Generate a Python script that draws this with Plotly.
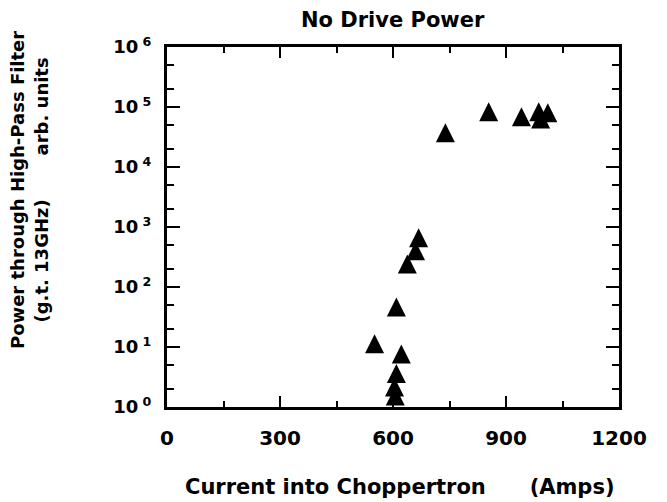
import plotly.graph_objects as go

# Data
current_amps = [551, 609, 622, 609, 604, 606, 638, 660, 668, 739, 854, 941, 987, 992, 1011]
power_arb = [10, 41, 6.8, 3.2, 1.9, 1.35, 215, 355, 585, 33000, 74000, 61000, 74000, 56000, 71000]

x_tick_vals = [0, 300, 600, 900, 1200]
x_tick_text = ["0", "300", "600", "900", "1200"]
y_tick_vals = [1, 10, 100, 1000, 10000, 100000, 1000000]
y_tick_text = ["10<sup> 0</sup>", "10<sup> 1</sup>", "10<sup> 2</sup>", "10<sup> 3</sup>",
               "10<sup> 4</sup>", "10<sup> 5</sup>", "10<sup> 6</sup>"]

title_text = "No Drive Power"
x_title = "Current into Choppertron&nbsp;&nbsp;&nbsp;&nbsp;&nbsp; (Amps)"
y_title = ("Power through High-Pass Filter<br>"
           "(g.t. 13GHz)&nbsp;&nbsp;&nbsp;&nbsp;&nbsp;&nbsp; arb. units")

FONT = "DejaVu Sans"


def fnt(size):
    return dict(family=FONT, size=size, color="black", weight="bold")


MARKER_SIZE = 19
# arrow-up marker has its apex at the data point; an invisible twin axis
# shifted by 2/3 of the marker height centres the glyph on the value.
shift_decades = (2.0 / 3.0 * MARKER_SIZE) / 60.0

fig = go.Figure()
# empty trace keeps the visible axis pair (x, y) drawn
fig.add_trace(go.Scatter(x=[], y=[], mode="markers", showlegend=False, hoverinfo="skip"))
fig.add_trace(go.Scatter(
    x=current_amps, y=power_arb, mode="markers", yaxis="y2",
    marker=dict(symbol="arrow-up", size=MARKER_SIZE, color="black",
                line=dict(width=0)),
    showlegend=False,
))

axis_common = dict(
    showgrid=False, zeroline=False, showline=True, linecolor="black", linewidth=3,
    mirror="ticks", ticks="inside", tickcolor="black", tickwidth=2,
)

fig.update_xaxes(
    range=[0, 1200], tickvals=x_tick_vals, ticktext=x_tick_text, ticklen=11,
    minor=dict(ticks="inside", dtick=150, ticklen=6, tickwidth=2, tickcolor="black"),
    ticklabelstandoff=11, tickfont=fnt(20),
    **axis_common,
)
fig.update_yaxes(
    type="log", range=[0, 6], tickvals=y_tick_vals, ticktext=y_tick_text, ticklen=13,
    minor=dict(ticks="inside", ticklen=7, tickwidth=2, tickcolor="black"),
    ticklabelstandoff=9, tickfont=fnt(18),
    **axis_common,
)
fig.update_layout(yaxis2=dict(
    type="log", range=[-shift_decades, 6 - shift_decades], overlaying="y",
    visible=False, showgrid=False, zeroline=False,
))

fig.add_annotation(text=title_text, xref="paper", yref="paper", x=0.5, y=1.075,
                   showarrow=False, font=fnt(21), xanchor="center", yanchor="middle")
fig.add_annotation(text=x_title, xref="paper", yref="paper", x=0.515, y=-0.222,
                   showarrow=False, font=fnt(21), xanchor="center", yanchor="middle")
fig.add_annotation(text=y_title, xref="paper", yref="paper", x=-0.305, y=0.603,
                   showarrow=False, font=fnt(18), textangle=-90,
                   xanchor="center", yanchor="middle")

# the page body keeps an 8px default margin; margins compensate for it
fig.update_layout(
    width=667, height=502,
    margin=dict(l=159, r=56, t=39, b=103),
    plot_bgcolor="white", paper_bgcolor="white",
    font=fnt(18),
)

fig.write_html("out.html")
